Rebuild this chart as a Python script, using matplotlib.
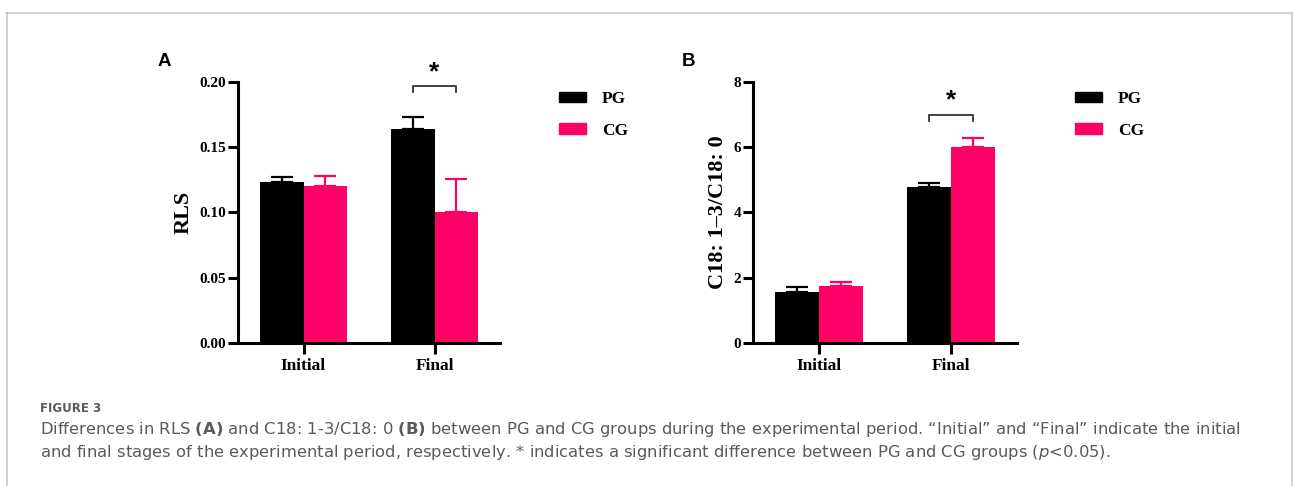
import numpy as np
import matplotlib
matplotlib.use("Agg")
import matplotlib.pyplot as plt
from matplotlib.patches import Patch
from matplotlib.lines import Line2D

# data: means and (upper) SD for each group
stages = ["Initial", "Final"]
groups = ["PG", "CG"]
colors = ["#000000", "#ff0066"]

rls_mean = {"PG": [0.123, 0.164], "CG": [0.120, 0.100]}
rls_sd = {"PG": [0.004, 0.0095], "CG": [0.008, 0.026]}

c18_mean = {"PG": [1.55, 4.77], "CG": [1.75, 6.00]}
c18_sd = {"PG": [0.18, 0.14], "CG": [0.12, 0.29]}

W, H = 1293, 486
fig = plt.figure(figsize=(W / 100, H / 100), dpi=100)

serif = "Liberation Serif"
sans = "Liberation Sans"
plt.rcParams["mathtext.fontset"] = "custom"
plt.rcParams["mathtext.rm"] = "DejaVu Sans"
plt.rcParams["mathtext.bf"] = "DejaVu Sans:bold"
plt.rcParams["mathtext.it"] = "DejaVu Sans:italic"


def px_axes(x0, y_top, x1, y_bot):
    return fig.add_axes([x0 / W, 1 - y_bot / H, (x1 - x0) / W, (y_bot - y_top) / H])


def draw_panel(ax, means, sds, ylim, yticks, ytick_fmt, ylabel, bracket_y, star_y,
               leg_xy):
    x = np.arange(len(stages))
    bw = 0.33
    for i, g in enumerate(groups):
        pos = x - bw / 2 + i * bw
        ax.bar(pos, means[g], bw, color=colors[i], zorder=2)
        ax.errorbar(pos, means[g], yerr=[np.zeros(len(stages)), sds[g]],
                    fmt="none", ecolor=colors[i], elinewidth=1.6, capsize=8,
                    capthick=1.6, zorder=1)
    ax.set_xlim(-0.5, 1.5)
    ax.set_ylim(*ylim)
    ax.set_yticks(yticks)
    ax.set_yticklabels([ytick_fmt(v) for v in yticks])
    ax.set_xticks(x)
    ax.set_xticklabels(stages)
    for s in ["top", "right"]:
        ax.spines[s].set_visible(False)
    for s in ["left", "bottom"]:
        ax.spines[s].set_linewidth(2.2)
    ax.tick_params(axis="y", length=7.5, width=2.2, pad=1)
    ax.tick_params(axis="x", length=8, width=2.2, pad=3)
    for t in ax.get_yticklabels():
        t.set_fontfamily(serif); t.set_fontweight("bold"); t.set_fontsize(11)
    for t in ax.get_xticklabels():
        t.set_fontfamily(serif); t.set_fontweight("bold"); t.set_fontsize(12.5)
    ax.set_ylabel(ylabel, fontfamily=serif, fontweight="bold", fontsize=16, labelpad=4)

    # significance bracket over the final stage
    xl, xr = 1 - bw / 2, 1 + bw / 2
    drop = (ylim[1] - ylim[0]) * 0.022
    ax.plot([xl, xl, xr, xr], [bracket_y - drop, bracket_y, bracket_y, bracket_y - drop],
            color="#333333", lw=1.3, clip_on=False)
    ax.text(1, star_y, "*", ha="center", va="center", fontsize=19,
            fontweight="bold", fontfamily=sans, clip_on=False)

    handles = [Patch(facecolor=c, edgecolor=c) for c in colors]
    ax.legend(handles, groups, loc="upper left",
              bbox_to_anchor=(leg_xy[0] / W, 1 - leg_xy[1] / H),
              bbox_transform=fig.transFigure, borderpad=0, borderaxespad=0,
              frameon=False, handlelength=1.55, handleheight=0.52,
              labelspacing=0.9, handletextpad=0.92,
              prop={"family": serif, "weight": "bold", "size": 12.5})


axA = px_axes(238, 82, 500, 343)
draw_panel(axA, rls_mean, rls_sd, (0, 0.20), [0, 0.05, 0.10, 0.15, 0.20],
           lambda v: f"{v:.2f}", "RLS", 0.1969, 0.2075, (559, 91))

axB = px_axes(753, 82, 1017, 343)
draw_panel(axB, c18_mean, c18_sd, (0, 8), [0, 2, 4, 6, 8],
           lambda v: f"{v:.0f}", "C18: 1\u20133/C18: 0", 6.99, 7.45, (1075, 91))

fig.text(164 / W, 1 - 62 / H, "A", fontfamily=sans, fontweight="bold", fontsize=13.5,
         ha="center", va="center")
fig.text(688 / W, 1 - 62 / H, "B", fontfamily=sans, fontweight="bold", fontsize=13.5,
         ha="center", va="center")

# outer frame lines
frame = "#c8c8c8"
fig.add_artist(Line2D([6 / W, 1292 / W], [1 - 13 / H, 1 - 13 / H], color=frame, lw=1.2))
fig.add_artist(Line2D([7 / W, 7 / W], [0, 1 - 13 / H], color=frame, lw=1.2))
fig.add_artist(Line2D([1291.5 / W, 1291.5 / W], [0, 1 - 13 / H], color=frame, lw=1.2))

# caption
cap_color = "#5a5a5a"
fig.text(40 / W, 1 - 408 / H, "FIGURE 3", fontfamily="DejaVu Sans", fontsize=8.5,
         color=cap_color, va="center", fontweight="semibold")
line1 = ("Differences in RLS $\\mathbf{(A)}$ and C18: 1-3/C18: 0 $\\mathbf{(B)}$ between PG and CG "
         "groups during the experimental period. \u201cInitial\u201d and \u201cFinal\u201d indicate the initial")
line2 = ("and final stages of the experimental period, respectively. * indicates a significant "
         "difference between PG and CG groups ($\\it{p}$<0.05).")
t1 = fig.text(40 / W, 1 - 429 / H, line1, fontfamily="DejaVu Sans", fontsize=11,
              color=cap_color, va="center")
t2 = fig.text(40 / W, 1 - 452 / H, line2, fontfamily="DejaVu Sans", fontsize=11,
              color=cap_color, va="center")

# scale the caption so the first line spans the text block width
renderer = fig.canvas.get_renderer()
wpx = t1.get_window_extent(renderer).width
size = 11 * 1195 / wpx
t1.set_fontsize(size)
t2.set_fontsize(size)

fig.savefig("out.png", dpi=100, facecolor="white")
